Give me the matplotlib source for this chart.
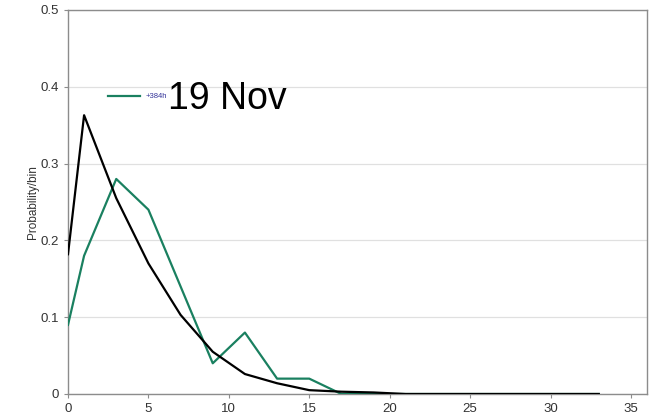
import matplotlib
matplotlib.use("Agg")
import matplotlib.pyplot as plt

# bins (x) and probabilities
x_bins = [0, 1, 3, 5, 7, 9, 11, 13, 15, 17, 19, 21, 23, 25, 27, 29, 31, 33]
p_fcst = [0.09, 0.18, 0.28, 0.24, 0.14, 0.04, 0.08, 0.02, 0.02, 0.0,
          0.0, 0.0, 0.0, 0.0, 0.0, 0.0, 0.0, 0.0]
p_clim = [0.182, 0.363, 0.255, 0.170, 0.103, 0.055, 0.026, 0.014, 0.005,
          0.003, 0.002, 0.0, 0.0, 0.0, 0.0, 0.0, 0.0, 0.0]
y_ticks = [0, 0.1, 0.2, 0.3, 0.4, 0.5]
y_labels = ["0", "0.1", "0.2", "0.3", "0.4", "0.5"]
x_ticks = [0, 5, 10, 15, 20, 25, 30, 35]

GREEN = "#1a8060"
EDGE = "#8c8c8c"

plt.rcParams["font.family"] = ["Liberation Sans", "DejaVu Sans"]

fig = plt.figure(figsize=(6.59, 4.16), dpi=100)
ax = fig.add_axes([68 / 659, 22 / 416, 579 / 659, 384 / 416])

ax.plot(x_bins, p_fcst, color=GREEN, lw=1.6, zorder=3)
ax.plot(x_bins, p_clim, color="black", lw=1.6, zorder=4)

ax.set_xlim(0, 36)
ax.set_ylim(0, 0.5)
ax.set_xticks(x_ticks)
ax.set_yticks(y_ticks, y_labels)
ax.tick_params(labelsize=9.5, colors="#333333", length=3, width=0.8)
ax.tick_params(axis="both", color=EDGE)
ax.grid(axis="y", color="#e0e0e0", lw=0.9)
ax.set_axisbelow(True)
for s in ax.spines.values():
    s.set_color(EDGE)
    s.set_linewidth(1.0)
ax.set_ylabel("Probability/bin", fontsize=8.5, color="#333333", labelpad=1)

# legend-like label
ax.plot([2.5, 4.5], [0.388, 0.388], color=GREEN, lw=1.6)
ax.text(4.8, 0.388, "+384h", fontsize=5.5, color="#333399", va="center")
ax.text(6.2, 0.384, "19 Nov", fontsize=27, color="black", va="center")

fig.savefig("out.png", dpi=100)
